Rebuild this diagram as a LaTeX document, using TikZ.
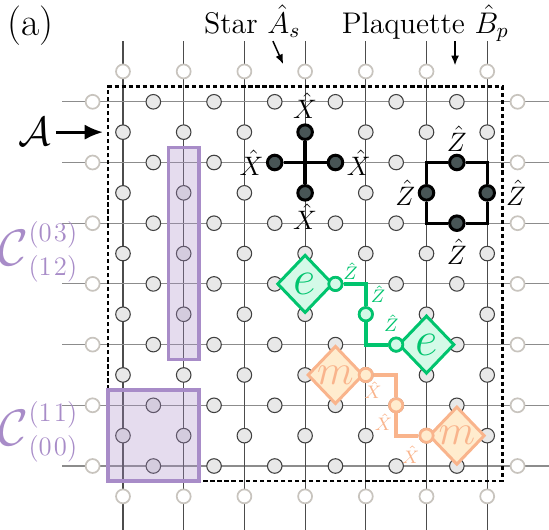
\RequirePackage{fix-cm}
\documentclass[tikz,border=0pt]{standalone}
\usepackage{amsmath,amssymb}
\usetikzlibrary{arrows.meta,shapes.geometric}

\definecolor{lilac}{RGB}{168,140,200}
\definecolor{mint}{RGB}{0,196,110}
\definecolor{mintfill}{RGB}{212,250,232}
\definecolor{peach}{RGB}{249,180,140}
\definecolor{peachfill}{RGB}{255,236,206}
\definecolor{slate}{RGB}{72,85,86}
\definecolor{ghost}{RGB}{200,196,190}

\newcommand{\loopidx}[2]{\mbox{\fontsize{12.5}{14}\selectfont(#1\kern1pt#2)}}

\begin{document}
\begin{tikzpicture}[>=latex,
  hline/.style={draw=black!45,line width=0.5pt},
  vline/.style={draw=black!70,line width=0.5pt},
  qubit/.style={circle,draw=black!75,fill=black!9,line width=0.5pt,minimum size=0.24cm,inner sep=0pt},
  ghostq/.style={circle,draw=ghost,fill=white,line width=0.8pt,minimum size=0.23cm,inner sep=0pt},
  spin/.style={circle,draw=black,fill=slate,line width=1.4pt,minimum size=0.24cm,inner sep=0pt},
  arm/.style={line width=1.5pt},
  region/.style={draw=lilac,line width=1.6pt,fill=lilac,fill opacity=0.3},
  anyon/.style={diamond,draw=#1,text=#1,line width=1.4pt,minimum width=0.92cm,minimum height=0.96cm,inner sep=0pt,font=\fontsize{23}{26}\selectfont},
  pathq/.style={circle,draw=#1,line width=1.3pt,minimum size=0.22cm,inner sep=0pt},
  strand/.style={draw=#1,line width=1.9pt},
  oplab/.style={font=\fontsize{12.5}{14}\selectfont,inner sep=1pt},
  tinylab/.style={text=#1,font=\fontsize{8.5}{10}\selectfont,inner sep=0pt},
  tagarrow/.style={-{Latex[length=1.6mm,width=1.3mm]},line width=0.7pt},
  heading/.style={font=\fontsize{14}{16}\selectfont,anchor=base,inner sep=0pt},
  loopname/.style={text=lilac,font=\fontsize{18.5}{22}\selectfont,anchor=east,inner sep=0pt}
]
\useasboundingbox (-2.026,-1.038) rectangle (7.018,7.677);

% lattice
\foreach \k in {0,...,6} {
  \draw[hline] (-1,\k) -- (7.1,\k);
  \draw[vline] (\k,-1.1) -- (\k,7);
}

% edge qubits, boundary ones in light grey
\foreach \j in {0,...,6} {
  \foreach \i in {0,...,5} \node[qubit] (h\i-\j) at (\i+0.5,\j) {};
  \node[ghostq] (hL-\j) at (-0.5,\j) {};
  \node[ghostq] (hR-\j) at (6.5,\j) {};
}
\foreach \i in {0,...,6} {
  \foreach \j in {0,...,5} \node[qubit] (v\i-\j) at (\i,\j+0.5) {};
  \node[ghostq] (vB-\i) at (\i,-0.5) {};
  \node[ghostq] (vT-\i) at (\i,6.5) {};
}

% region A
\draw[line width=1.1pt,dash pattern=on 2pt off 1.3pt] (-0.25,-0.25) rectangle (6.25,6.25);
\node[font=\fontsize{19}{22}\selectfont,inner sep=2pt] (calA) at (-1.45,5.5) {$\mathcal{A}$};
\coordinate (calAtip) at (-0.33,5.5);
\draw[-{Latex[length=3mm,width=2.5mm]},line width=1.3pt] (calA) -- (calAtip);

% logical loops
\draw[region] (0.75,1.75) rectangle (1.25,5.25);
\draw[region] (-0.25,-0.25) rectangle (1.25,1.25);
\node[loopname] (c03) at (-0.73,3.53)
  {$\mbox{\fontsize{24}{28}\selectfont$\mathcal{C}$}^{\loopidx{0}{3}}_{\loopidx{1}{2}}$};
\node[loopname] (c11) at (-0.73,0.56)
  {$\mbox{\fontsize{24}{28}\selectfont$\mathcal{C}$}^{\loopidx{1}{1}}_{\loopidx{0}{0}}$};

% star
\node[spin] (sN) at (3,5.5) {};
\node[spin] (sS) at (3,4.5) {};
\node[spin] (sW) at (2.5,5) {};
\node[spin] (sE) at (3.5,5) {};
\draw[arm] (sN) -- (sS);
\draw[arm] (sW) -- (sE);
\node[oplab,anchor=south,yshift=1pt] (sNlab) at (sN.north) {$\hat{X}$};
\node[oplab,anchor=north] (sSlab) at (sS.south) {$\hat{X}$};
\node[oplab,anchor=east] (sWlab) at (sW.west) {$\hat{X}$};
\node[oplab,anchor=west] (sElab) at (sE.east) {$\hat{X}$};

% plaquette
\node[spin] (pN) at (5.5,5) {};
\node[spin] (pS) at (5.5,4) {};
\node[spin] (pW) at (5,4.5) {};
\node[spin] (pE) at (6,4.5) {};
\draw[arm] (pN) -| (pE) |- (pS) -| (pW) |- (pN);
\node[oplab,anchor=south] (pNlab) at (pN.north) {$\hat{Z}$};
\node[oplab,anchor=north,yshift=-2pt] (pSlab) at (pS.south) {$\hat{Z}$};
\node[oplab,anchor=east] (pWlab) at (pW.west) {$\hat{Z}$};
\node[oplab,anchor=west,xshift=3.5pt] (pElab) at (pE.east) {$\hat{Z}$};

% headings
\node[heading] (starlab) at (2.13,7.13) {Star $\hat{A}_s$};
\node[heading] (plaqlab) at (4.98,7.13) {Plaquette $\hat{B}_p$};
\coordinate (starA) at (2.47,7.0);
\coordinate (starB) at (2.64,6.62);
\draw[tagarrow] (starA) -- (starB);
\coordinate (plaqA) at (5.47,7.0);
\coordinate (plaqB) at (5.47,6.6);
\draw[tagarrow] (plaqA) -- (plaqB);
\node[heading,font=\fontsize{18.5}{22}\selectfont] (panel) at (-1.53,7.1) {(a)};

% e anyons and Z string
\node[anyon=mint,fill=mintfill] (e1) at (3,3) {$e$};
\node[anyon=mint,fill=mintfill] (e2) at (5,2) {$e$};
\node[pathq=mint,fill=mintfill] (g1) at (3.5,3) {};
\node[pathq=mint,fill=mintfill] (g2) at (4,2.5) {};
\node[pathq=mint,fill=mintfill] (g3) at (4.5,2) {};
\draw[strand=mint] (g1) -| (g2) |- (g3);
\node[tinylab=mint] (g1lab) at ([shift={(0.25,0.21)}]g1.center) {$\hat{Z}$};
\node[tinylab=mint] (g2lab) at ([shift={(0.2,0.33)}]g2.center) {$\hat{Z}$};
\node[tinylab=mint] (g3lab) at ([shift={(-0.08,0.35)}]g3.center) {$\hat{Z}$};

% m anyons and X string
\node[anyon=peach,fill=peachfill,font=\fontsize{20}{24}\selectfont] (m1) at (3.5,1.5) {$m$};
\node[anyon=peach,fill=peachfill,font=\fontsize{20}{24}\selectfont] (m2) at (5.5,0.5) {$m$};
\node[pathq=peach,fill=peachfill] (o1) at (4,1.5) {};
\node[pathq=peach,fill=peachfill] (o2) at (4.5,1) {};
\node[pathq=peach,fill=peachfill] (o3) at (5,0.5) {};
\draw[strand=peach] (o1) -| (o2) |- (o3);
\node[tinylab=peach] (o1lab) at ([shift={(0.12,-0.25)}]o1.center) {$\hat{X}$};
\node[tinylab=peach] (o2lab) at ([shift={(-0.21,-0.28)}]o2.center) {$\hat{X}$};
\node[tinylab=peach] (o3lab) at ([shift={(-0.26,-0.31)}]o3.center) {$\hat{X}$};
\end{tikzpicture}
\end{document}
